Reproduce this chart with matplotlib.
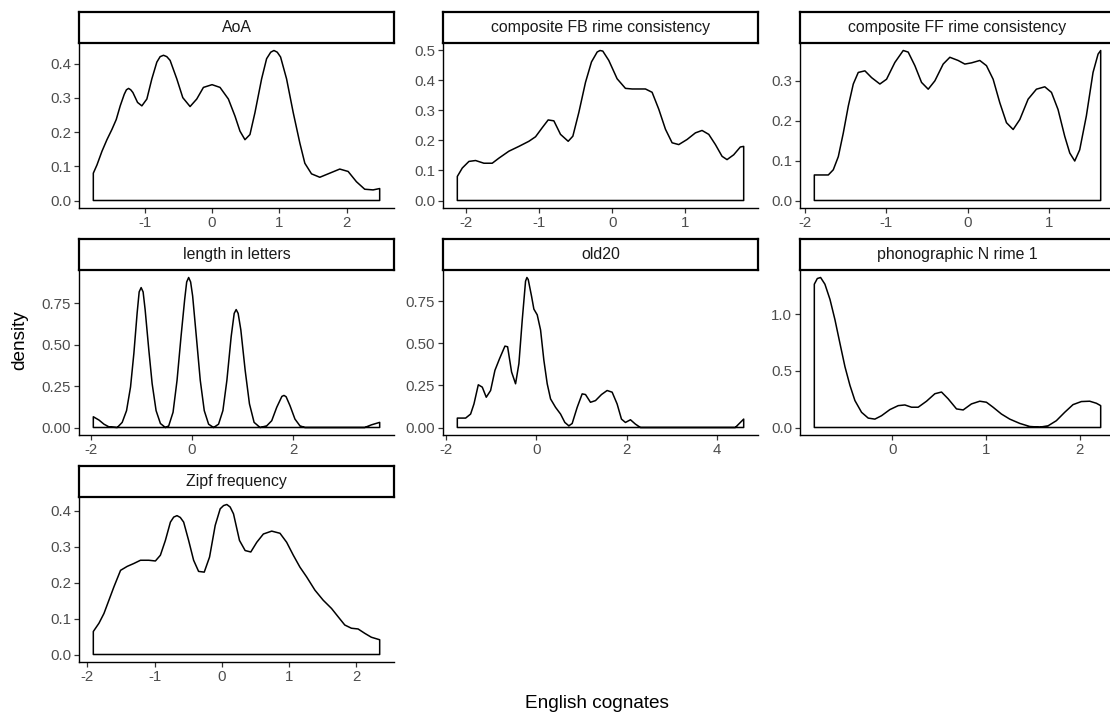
import matplotlib
matplotlib.use("Agg")
import matplotlib.pyplot as plt
from matplotlib.ticker import FormatStrFormatter

plt.rcParams['font.family'] = ['Liberation Sans', 'DejaVu Sans']
plt.rcParams['axes.unicode_minus'] = False

# density estimates per predictor (standardised scale)
aoa_x = [-1.761, -1.707, -1.633, -1.559, -1.485, -1.421, -1.362, -1.302, -1.270, -1.238, -1.206, -1.174,
         -1.105, -1.041, -0.967, -0.893, -0.819, -0.770, -0.720, -0.671, -0.622, -0.523, -0.434, -0.326,
         -0.227, -0.128, 0.0, 0.118, 0.242, 0.340, 0.414, 0.488, 0.562, 0.636,
         0.735, 0.809, 0.870, 0.918, 0.967, 1.016, 1.105, 1.204, 1.302, 1.376, 1.475, 1.598,
         1.746, 1.894, 2.018, 2.141, 2.264, 2.388, 2.486]
aoa_y = [0.080, 0.104, 0.144, 0.178, 0.208, 0.237, 0.277, 0.311, 0.324, 0.328, 0.324, 0.316,
         0.287, 0.277, 0.297, 0.356, 0.405, 0.421, 0.425, 0.421, 0.410, 0.356, 0.301, 0.275,
         0.297, 0.331, 0.339, 0.331, 0.297, 0.247, 0.203, 0.178, 0.193, 0.257,
         0.356, 0.415, 0.434, 0.439, 0.434, 0.420, 0.356, 0.257, 0.168, 0.109, 0.078, 0.068,
         0.080, 0.092, 0.085, 0.055, 0.033, 0.031, 0.035]

fb_x = [-2.120, -2.052, -1.961, -1.870, -1.756, -1.642, -1.550, -1.414, -1.277, -1.140,
        -1.049, -0.958, -0.876, -0.798, -0.707, -0.602, -0.538, -0.456, -0.365, -0.283,
        -0.205, -0.166, -0.128, -0.046, 0.068, 0.182, 0.274, 0.456, 0.547, 0.638, 0.730,
        0.821, 0.912, 1.026, 1.140, 1.231, 1.323, 1.414, 1.505, 1.573, 1.664,
        1.755, 1.801]
fb_y = [0.080, 0.108, 0.130, 0.133, 0.124, 0.124, 0.141, 0.164, 0.180, 0.197,
        0.212, 0.242, 0.268, 0.265, 0.220, 0.197, 0.214, 0.293, 0.393, 0.461,
        0.494, 0.499, 0.497, 0.466, 0.405, 0.373, 0.371, 0.371, 0.360, 0.304, 0.237,
        0.192, 0.186, 0.203, 0.225, 0.233, 0.220, 0.186, 0.147, 0.136, 0.152,
        0.178, 0.180]

ff_x = [-1.883, -1.711, -1.650, -1.588, -1.527, -1.465, -1.404, -1.343, -1.261, -1.179,
        -1.077, -0.995, -0.893, -0.790, -0.729, -0.647, -0.565, -0.483, -0.401, -0.299,
        -0.217, -0.115, -0.033, 0.049, 0.151, 0.233, 0.315, 0.397, 0.479, 0.561,
        0.643, 0.745, 0.847, 0.950, 1.032, 1.113, 1.195, 1.257, 1.318, 1.379,
        1.461, 1.543, 1.605, 1.637]
ff_y = [0.064, 0.064, 0.077, 0.110, 0.169, 0.237, 0.292, 0.321, 0.325, 0.308,
        0.292, 0.304, 0.346, 0.376, 0.372, 0.338, 0.296, 0.279, 0.300, 0.342,
        0.359, 0.351, 0.342, 0.345, 0.351, 0.338, 0.304, 0.245, 0.195, 0.178,
        0.203, 0.254, 0.279, 0.285, 0.271, 0.228, 0.161, 0.119, 0.099, 0.127,
        0.212, 0.321, 0.367, 0.376]

len_x = [-1.954, -1.842, -1.743, -1.645, -1.480, -1.382, -1.296, -1.217, -1.151, -1.086,
         -1.046, -1.007, -0.968, -0.928, -0.855, -0.789, -0.711, -0.625, -0.526, -0.461,
         -0.375, -0.296, -0.217, -0.145, -0.105, -0.066, -0.027, 0.013, 0.086, 0.164,
         0.243, 0.329, 0.428, 0.526, 0.612, 0.691, 0.776, 0.836, 0.875, 0.914, 0.967,
         1.053, 1.138, 1.230, 1.349, 1.480, 1.579, 1.678, 1.780, 1.822, 1.864, 1.941,
         2.039, 2.138, 2.237, 3.421, 3.553, 3.717]
len_y = [0.065, 0.045, 0.020, 0.004, 0.0, 0.031, 0.102, 0.245, 0.448, 0.693,
         0.820, 0.846, 0.820, 0.713, 0.469, 0.265, 0.102, 0.024, 0.0, 0.010,
         0.092, 0.285, 0.550, 0.774, 0.880, 0.907, 0.880, 0.795, 0.550, 0.285,
         0.102, 0.020, 0.0, 0.020, 0.102, 0.285, 0.550, 0.690, 0.713, 0.690, 0.591,
         0.346, 0.143, 0.031, 0.0, 0.010, 0.041, 0.122, 0.188, 0.194, 0.186, 0.132,
         0.051, 0.010, 0.0, 0.0, 0.016, 0.031]

old_x = [-1.745, -1.561, -1.451, -1.377, -1.281, -1.193, -1.105, -1.009, -0.913, -0.810,
         -0.692, -0.633, -0.545, -0.457, -0.383, -0.309, -0.236, -0.206, -0.177, -0.103, -0.052,
         0.022, 0.096, 0.169, 0.243, 0.317, 0.427, 0.538, 0.633, 0.722, 0.795,
         0.906, 1.016, 1.090, 1.200, 1.311, 1.443, 1.568, 1.679, 1.789, 1.885,
         1.973, 2.084, 2.194, 2.305, 4.403, 4.477, 4.588]
old_y = [0.056, 0.056, 0.080, 0.140, 0.254, 0.240, 0.180, 0.220, 0.340, 0.410,
         0.484, 0.480, 0.330, 0.260, 0.380, 0.640, 0.870, 0.892, 0.880, 0.780, 0.704,
         0.670, 0.580, 0.400, 0.260, 0.170, 0.120, 0.080, 0.030, 0.010, 0.024,
         0.120, 0.200, 0.196, 0.150, 0.160, 0.196, 0.220, 0.210, 0.140, 0.050,
         0.030, 0.046, 0.020, 0.0, 0.0, 0.020, 0.050]

phon_x = [-0.831, -0.799, -0.764, -0.718, -0.664, -0.611, -0.558, -0.504, -0.451, -0.398,
          -0.327, -0.256, -0.185, -0.114, -0.025, 0.064, 0.135, 0.206, 0.277, 0.366,
          0.455, 0.526, 0.597, 0.686, 0.757, 0.845, 0.934, 1.005, 1.076, 1.165,
          1.254, 1.361, 1.467, 1.574, 1.663, 1.751, 1.840, 1.929, 2.018, 2.107,
          2.178, 2.224]
phon_y = [1.265, 1.315, 1.324, 1.265, 1.131, 0.952, 0.744, 0.536, 0.372, 0.238,
          0.134, 0.083, 0.074, 0.104, 0.158, 0.193, 0.199, 0.179, 0.179, 0.232,
          0.298, 0.313, 0.253, 0.164, 0.155, 0.208, 0.232, 0.223, 0.179, 0.119,
          0.074, 0.036, 0.009, 0.003, 0.015, 0.060, 0.134, 0.202, 0.229, 0.232,
          0.214, 0.193]

zipf_x = [-1.911, -1.827, -1.753, -1.679, -1.605, -1.506, -1.407, -1.309, -1.210, -1.086,
          -0.988, -0.914, -0.840, -0.765, -0.716, -0.667, -0.618, -0.568, -0.494, -0.420, -0.346, -0.262,
          -0.183, -0.099, -0.025, 0.025, 0.074, 0.123, 0.173, 0.262, 0.346, 0.430, 0.519, 0.617,
          0.741, 0.864, 0.963, 1.062, 1.160, 1.259, 1.383, 1.506, 1.630, 1.728,
          1.827, 1.926, 2.025, 2.123, 2.222, 2.346]
zipf_y = [0.064, 0.087, 0.114, 0.151, 0.188, 0.234, 0.245, 0.253, 0.262, 0.262,
          0.260, 0.276, 0.317, 0.368, 0.382, 0.386, 0.381, 0.368, 0.317, 0.262, 0.231, 0.229,
          0.271, 0.359, 0.405, 0.414, 0.417, 0.410, 0.391, 0.317, 0.289, 0.285, 0.312, 0.335,
          0.343, 0.337, 0.312, 0.276, 0.243, 0.216, 0.179, 0.151, 0.128, 0.105,
          0.082, 0.073, 0.071, 0.059, 0.048, 0.041]

panels = [
    ("AoA", aoa_x, aoa_y, [-1, 0, 1, 2], [0.0, 0.1, 0.2, 0.3, 0.4], '%.1f'),
    ("composite FB rime consistency", fb_x, fb_y, [-2, -1, 0, 1], [0.0, 0.1, 0.2, 0.3, 0.4, 0.5], '%.1f'),
    ("composite FF rime consistency", ff_x, ff_y, [-2, -1, 0, 1], [0.0, 0.1, 0.2, 0.3], '%.1f'),
    ("length in letters", len_x, len_y, [-2, 0, 2], [0.0, 0.25, 0.5, 0.75], '%.2f'),
    ("old20", old_x, old_y, [-2, 0, 2, 4], [0.0, 0.25, 0.5, 0.75], '%.2f'),
    ("phonographic N rime 1", phon_x, phon_y, [0, 1, 2], [0.0, 0.5, 1.0], '%.1f'),
    ("Zipf frequency", zipf_x, zipf_y, [-2, -1, 0, 1, 2], [0.0, 0.1, 0.2, 0.3, 0.4], '%.1f'),
]

W, H = 1110, 715
fig = plt.figure(figsize=(W / 100, H / 100), dpi=100)
fig.patch.set_facecolor('white')

def box(left, top, w, h):
    return [left / W, 1 - (top + h) / H, w / W, h / H]

col_left = [79, 443, 800]
row_top = [12, 239, 466]
panel_w, strip_h, panel_h = 315, 31, 165

for i, (name, xs, ys, xt, yt, fmt) in enumerate(panels):
    r, c = divmod(i, 3)
    left, top = col_left[c], row_top[r]

    ax = fig.add_axes(box(left, top + strip_h, panel_w, panel_h))
    # closed outline down to the baseline, like geom_density
    px = [xs[0]] + xs + [xs[-1]]
    py = [0] + ys + [0]
    ax.fill(px, py, facecolor='white', edgecolor='black', linewidth=1.1,
            joinstyle='round', clip_on=False)

    xr = xs[-1] - xs[0]
    ymax = max(ys)
    ax.set_xlim(xs[0] - 0.05 * xr, xs[-1] + 0.05 * xr)
    ax.set_ylim(-0.05 * ymax, ymax * 1.05)
    ax.set_xticks(xt)
    ax.set_yticks(yt)
    ax.yaxis.set_major_formatter(FormatStrFormatter(fmt))
    ax.xaxis.set_major_formatter(FormatStrFormatter('%d'))
    for s in ['top', 'right']:
        ax.spines[s].set_visible(False)
    for s in ['left', 'bottom']:
        ax.spines[s].set_linewidth(1.0)
        ax.spines[s].set_color('black')
    ax.tick_params(direction='out', length=3.5, width=0.9, color='#333333',
                   labelsize=10.8, labelcolor='#4D4D4D', pad=2.2)

    st = fig.add_axes(box(left, top, panel_w, strip_h))
    st.set_xticks([])
    st.set_yticks([])
    st.set_facecolor('white')
    for s in st.spines.values():
        s.set_linewidth(1.6)
        s.set_color('black')
    st.text(0.5, 0.5, name, ha='center', va='center', fontsize=11.4,
            color='#1A1A1A', transform=st.transAxes)

fig.text(20 / W, 1 - 340 / H, 'density', rotation=90, ha='center', va='center',
         fontsize=13.7, color='black')
fig.text(597 / W, 1 - 703 / H, 'English cognates', ha='center', va='center',
         fontsize=13.7, color='black')

fig.savefig('out.png', dpi=100)
